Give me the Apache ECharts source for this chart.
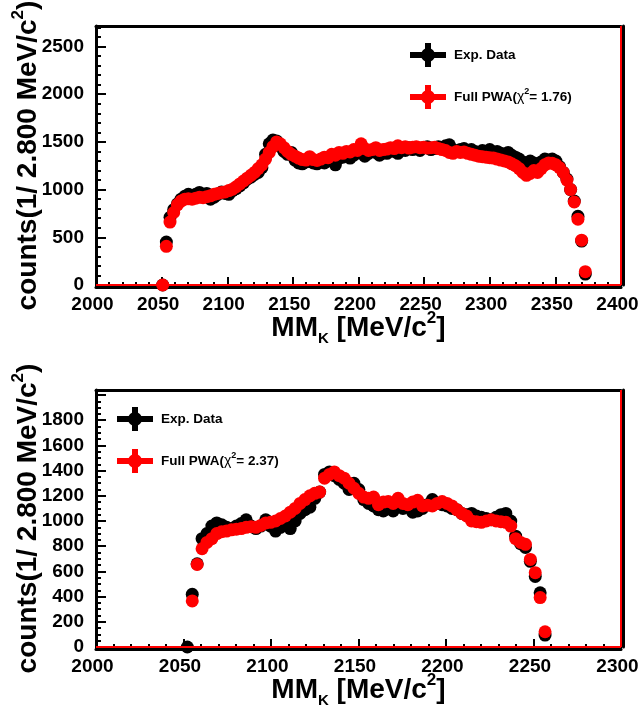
<!DOCTYPE html>
<html>
<head>
<meta charset="utf-8">
<script src="https://cdn.jsdelivr.net/npm/echarts@6/dist/echarts.min.js"></script>
<style>
  html, body { margin: 0; padding: 0; background: #fff; }
  #main { width: 642px; height: 707px; }
</style>
</head>
<body>
<div id="main"></div>
<script>
// histogram binning (2.8 MeV bins)
const binWidth = 2.8
const topStart = 2050.8
const botStart = 2052.2

// upper panel: data and fit, one value per bin
const topExp = [0, 450, 710, 790, 850, 900, 930, 950, 920, 950,
  970, 940, 960, 900, 920, 950, 975, 960, 950, 990,
  1010, 1040, 1070, 1110, 1130, 1160, 1180, 1230, 1370, 1480,
  1520, 1510, 1450, 1400, 1370, 1390, 1310, 1280, 1270, 1290,
  1300, 1280, 1270, 1300, 1280, 1320, 1300, 1260, 1330, 1340,
  1360, 1330, 1360, 1390, 1400, 1350, 1380, 1400, 1390, 1360,
  1400, 1380, 1420, 1400, 1380, 1420, 1410, 1440, 1420, 1430,
  1410, 1440, 1450, 1420, 1430, 1450, 1440, 1460, 1470, 1420,
  1400, 1420, 1430, 1410, 1420, 1400, 1390, 1410, 1400, 1420,
  1390, 1400, 1380, 1370, 1390, 1360, 1340, 1320, 1290, 1270,
  1300, 1280, 1250, 1290, 1320, 1310, 1320, 1300, 1240, 1180,
  1110, 1000, 880, 720, 460, 115]
const topFit = [0, 405, 660, 760, 840, 880, 900, 905, 900, 910,
  920, 915, 925, 935, 950, 960, 970, 975, 990, 1005,
  1030, 1060, 1090, 1120, 1150, 1180, 1220, 1260, 1320, 1390,
  1450, 1500, 1480, 1440, 1400, 1370, 1350, 1330, 1315, 1310,
  1345, 1315, 1305, 1320, 1340, 1335, 1370, 1360, 1390, 1380,
  1400, 1395, 1420, 1410, 1480, 1430, 1410, 1420, 1440, 1410,
  1420, 1425, 1440, 1430, 1460, 1440, 1450, 1435, 1445, 1450,
  1440, 1445, 1435, 1440, 1445, 1430, 1420, 1410, 1390, 1380,
  1400, 1390, 1395, 1380, 1370, 1360, 1350, 1345, 1340, 1335,
  1330, 1320, 1310, 1300, 1290, 1270, 1250, 1220, 1180, 1150,
  1170, 1200, 1180, 1220, 1260, 1280, 1275, 1260, 1230, 1180,
  1100, 1000, 870, 690, 470, 140]

// lower panel
const botExp = [0, 418, 660, 860, 900, 960, 985, 970, 950, 940,
  960, 980, 1010, 960, 940, 960, 1010, 960, 920, 950,
  980, 940, 1000, 1060, 1090, 1110, 1180, 1230, 1370, 1390,
  1360, 1330, 1300, 1250, 1300, 1250, 1170, 1140, 1120, 1090,
  1080, 1100, 1080, 1120, 1100, 1110, 1070, 1080, 1100, 1130,
  1170, 1140, 1130, 1120, 1100, 1090, 1060, 1050, 1060, 1040,
  1030, 1020, 1010, 1030, 1050, 1060, 1000, 880, 820, 790,
  680, 560, 430, 95]
const botFit = [null, 366, 655, 780, 830, 860, 900, 915, 920, 930,
  935, 940, 950, 955, 950, 965, 985, 990, 1000, 1020,
  1040, 1070, 1100, 1140, 1170, 1200, 1220, 1230, 1340, 1370,
  1390, 1360, 1340, 1300, 1260, 1220, 1190, 1180, 1190, 1130,
  1150, 1155, 1140, 1180, 1140, 1130, 1150, 1165, 1120, 1125,
  1120, 1140, 1155, 1140, 1120, 1090, 1060, 1040, 1000, 995,
  990, 1000, 1010, 1000, 995, 990, 960, 860, 830, 815,
  695, 590, 392, 121]

const topChi = '1.76'
const botChi = '2.37'
// highest labelled y tick in each panel
const topLabelMax = 2500
const botLabelMax = 1800

const FONT = '"Liberation Sans", Arial, Helvetica, sans-serif'

function pairs (start, vals) {
  let out = []
  for (let i = 0; i < vals.length; i++) {
    if (vals[i] !== null) out.push([+(start + i * binWidth).toFixed(2), vals[i]])
  }
  return out
}

// axis titles: big bold text, sub/superscripts placed by the line box
const nameRich = {
  b: { fontSize: 28, fontWeight: 'bold', fontFamily: FONT, color: '#000', lineHeight: 36 },
  sub: { fontSize: 15, fontWeight: 'bold', fontFamily: FONT, color: '#000', lineHeight: 16, verticalAlign: 'bottom' },
  sup: { fontSize: 17, fontWeight: 'bold', fontFamily: FONT, color: '#000', lineHeight: 16, verticalAlign: 'top' }
}

const labelStyle = { color: '#000', fontSize: 19, fontWeight: 'bold', fontFamily: FONT }

function xAxes (grid, max) {
  return [
    {
      gridIndex: grid, type: 'value', min: 2000, max: max, interval: 50, position: 'bottom', offset: 2,
      axisLine: { show: true, onZero: false, lineStyle: { color: '#000', width: 3 } },
      axisTick: { show: true, inside: true, length: 10, lineStyle: { color: '#000', width: 2 } },
      minorTick: { show: true, splitNumber: 5, length: 5, lineStyle: { color: '#000', width: 2 } },
      splitLine: { show: false },
      axisLabel: Object.assign({ margin: 8, padding: [0, 7, 0, 0], formatter (v) { return String(v) } }, labelStyle),
      name: '{b|MM}{sub|K}{b| [MeV/c}{sup|2}{b|]}',
      nameLocation: 'middle',
      nameGap: 23,
      nameMoveOverlap: false,
      nameTextStyle: { rich: nameRich }
    },
    {
      gridIndex: grid, type: 'value', min: 2000, max: max, position: 'top',
      axisLine: { show: true, onZero: false, lineStyle: { color: '#000', width: 3 } },
      axisTick: { show: false }, axisLabel: { show: false }, splitLine: { show: false }
    }
  ]
}

function yAxes (grid, max, step, minor, labelMax) {
  return [
    {
      gridIndex: grid, type: 'value', min: 0, max: max, interval: step, position: 'left',
      axisLine: { show: true, onZero: false, lineStyle: { color: '#000', width: 3 } },
      axisTick: { show: true, inside: true, length: 10, lineStyle: { color: '#000', width: 2 } },
      minorTick: { show: true, splitNumber: minor, length: 5, lineStyle: { color: '#000', width: 2 } },
      splitLine: { show: false },
      axisLabel: Object.assign({
        margin: 12,
        formatter (v) { return (v % step === 0 && v <= labelMax) ? String(v) : '' }
      }, labelStyle),
      name: '{b|counts(1/ 2.800 MeV/c}{sup|2}{b|)}',
      nameLocation: 'middle',
      nameGap: 50,
      nameMoveOverlap: false,
      nameTextStyle: { rich: nameRich }
    },
    {
      gridIndex: grid, type: 'value', min: 0, max: max, position: 'right', offset: 2,
      axisLine: { show: true, onZero: false, lineStyle: { color: '#000', width: 3 } },
      axisTick: { show: false }, axisLabel: { show: false }, splitLine: { show: false }
    }
  ]
}

const crossIcon = 'path://M0,9h36v6h-36z M15,0h6v24h-6z M25,12a7,7 0 1,1 -14,0a7,7 0 1,1 14,0z'

function legendFor (left, top, chi) {
  return {
    left: left, top: top, orient: 'vertical', padding: 0,
    itemWidth: 36, itemHeight: 24, itemGap: 18,
    selectedMode: false,
    data: [{ name: 'Exp. Data', icon: crossIcon }, { name: 'Full PWA', icon: crossIcon }],
    formatter (name) {
      return name === 'Full PWA' ? '{t|Full PWA(}{chi|χ}{s|2}{t|= ' + chi + ')}' : '{t|' + name + '}'
    },
    textStyle: {
      color: '#000', fontSize: 13.5, fontWeight: 'bold', fontFamily: FONT, padding: [0, 0, 0, 3],
      rich: {
        t: { fontSize: 13.5, fontWeight: 'bold', fontFamily: FONT, color: '#000', lineHeight: 20 },
        chi: { fontSize: 14, fontWeight: 'normal', fontFamily: FONT, color: '#000', lineHeight: 20 },
        s: { fontSize: 9, fontWeight: 'bold', fontFamily: FONT, color: '#000', verticalAlign: 'top', lineHeight: 10 }
      }
    }
  }
}

function redLines (max) {
  return {
    silent: true,
    symbol: ['none', 'none'],
    label: { show: false },
    lineStyle: { color: '#ff0000', width: 2, type: 'solid' },
    data: [{ yAxis: 0 }, { xAxis: max }]
  }
}

function scatter (name, color, xi, yi, data, ml) {
  let s = {
    name: name, type: 'scatter', xAxisIndex: xi, yAxisIndex: yi,
    symbol: 'circle', symbolSize: 13,
    itemStyle: { color: color, opacity: 1 },
    data: data
  }
  if (ml) s.markLine = ml
  return s
}

const chart = echarts.init(document.getElementById('main'))
chart.setOption({
  animation: false,
  backgroundColor: '#fff',
  grid: [
    { left: 96, right: 21, top: 26, height: 259, containLabel: false, outerBoundsMode: 'none' },
    { left: 96, right: 21, top: 390, height: 257, containLabel: false, outerBoundsMode: 'none' }
  ],
  xAxis: xAxes(0, 2400).concat(xAxes(1, 2300)),
  yAxis: yAxes(0, 2715, 500, 5, topLabelMax).concat(yAxes(1, 2040, 200, 4, botLabelMax)),
  legend: [legendFor(410, 43, topChi), legendFor(117, 407, botChi)],
  series: [
    scatter('Exp. Data', '#000', 0, 0, pairs(topStart, topExp)),
    scatter('Full PWA', '#ff0000', 0, 0, pairs(topStart, topFit), redLines(2400)),
    scatter('Exp. Data', '#000', 2, 2, pairs(botStart, botExp)),
    scatter('Full PWA', '#ff0000', 2, 2, pairs(botStart, botFit), redLines(2300))
  ]
})
</script>
</body>
</html>
